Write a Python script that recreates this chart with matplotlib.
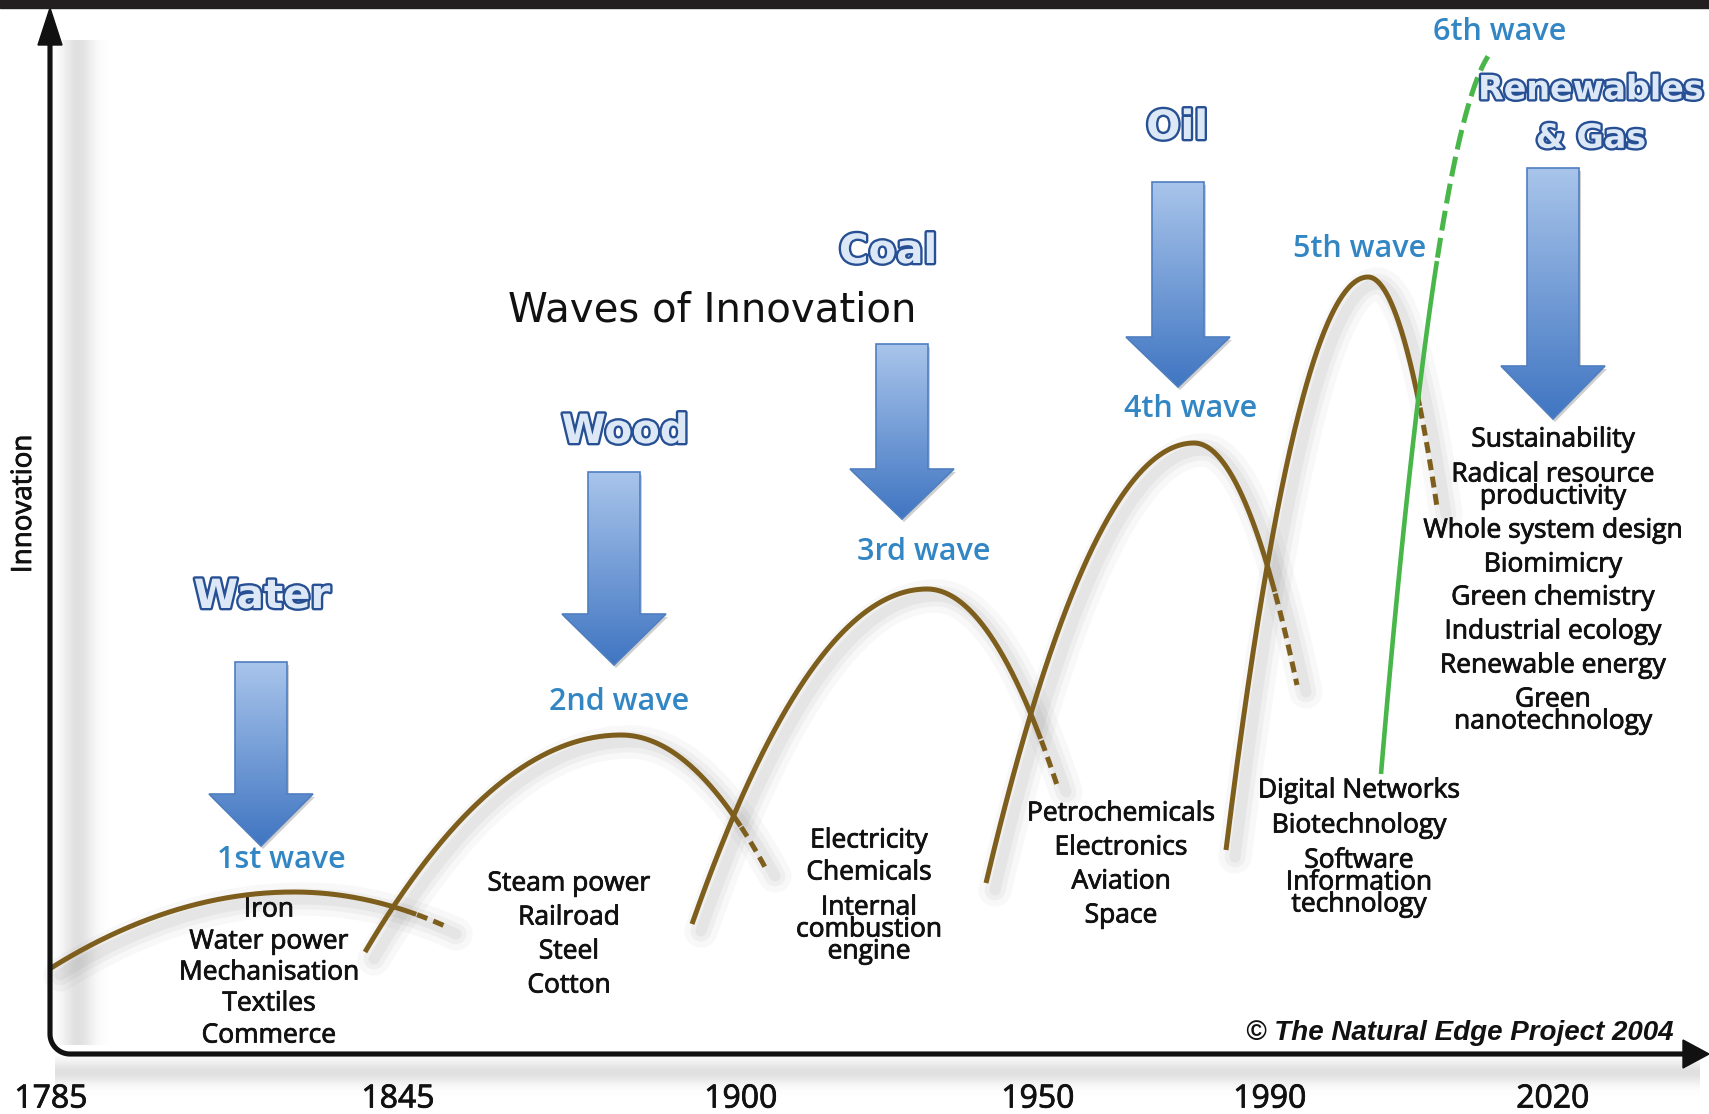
import numpy as np
import matplotlib
matplotlib.use("Agg")
import matplotlib.pyplot as plt
import matplotlib.patheffects as pe
from matplotlib.patches import Polygon, Rectangle

W, H = 1709, 1114

# ---- data (in picture pixels) ----
YEARS = ["1785", "1845", "1900", "1950", "1990", "2020"]
YEAR_X = [51, 398, 741, 1038, 1270, 1553]

RESOURCES = ["Water", "Wood", "Coal", "Oil", "Renewables\n& Gas"]
WAVES = ["1st wave", "2nd wave", "3rd wave", "4th wave", "5th wave", "6th wave"]
INDUSTRIES = [
    ["Iron", "Water power", "Mechanisation", "Textiles", "Commerce"],
    ["Steam power", "Railroad", "Steel", "Cotton"],
    ["Electricity", "Chemicals", "Internal\ncombustion\nengine"],
    ["Petrochemicals", "Electronics", "Aviation", "Space"],
    ["Digital Networks", "Biotechnology", "Software\nInformation\ntechnology"],
    ["Sustainability", "Radical resource\nproductivity", "Whole system design",
     "Biomimicry", "Green chemistry", "Industrial ecology", "Renewable energy",
     "Green\nnanotechnology"],
]

# brown waves: start, peak, end of each arc; dashed tail begins at WAVE_DASH_X
WAVE_START_X = [51, 365, 692, 986, 1226]
WAVE_START_Y = [968, 952, 924, 883, 850]
WAVE_PEAK_X = [294, 621, 927, 1194, 1368]
WAVE_PEAK_Y = [892, 735, 589, 443, 277]
WAVE_END_X = [447, 766, 1057, 1297, 1437]
WAVE_END_Y = [927, 869, 785, 685, 507]
WAVE_DASH_X = [417, 741, 1041, 1275, 1420]

# green 6th wave (rising limb only)
SIXTH_START = (1381, 774)
SIXTH_APEX = (1504, 44)
SIXTH_END_X = 1488
SIXTH_DASH_X = 1437

# ---- layout ----
ARROW_CX = [261, 614, 902, 1178, 1553]
ARROW_TOP = [662, 472, 344, 182, 168]
ARROW_BASE = [794, 614, 469, 337, 366]
ARROW_TIP = [846, 665, 519, 387, 419]
RES_POS = [(262, 597), (625, 432), (888, 252), (1177, 128), (1591, 114)]
WAVE_LBL_POS = [(281, 860), (619, 702), (924, 552), (1191, 409), (1360, 249), (1500, 32)]
IND_X = [269, 569, 869, 1121, 1359, 1553]
IND_Y = [[910, 942, 973, 1004, 1036],
         [884, 918, 952, 986],
         [841, 873, 930],
         [814, 848, 882, 916],
         [791, 826, 883],
         [440, 486, 531, 565, 598, 632, 666, 711]]

BROWN = "#7e5e1c"
GREEN = "#48b649"
WAVE_BLUE = "#3286c4"
FONT = "Open Sans"
INK = "#111111"
THICK = [pe.withStroke(linewidth=0.6, foreground=INK)]

fig = plt.figure(figsize=(W / 100, H / 100), dpi=100)
ax = fig.add_axes([0, 0, 1, 1])
ax.set_xlim(0, W)
ax.set_ylim(H, 0)
ax.axis("off")


def arc(x0, y0, xp, yp, x1, y1, n=200):
    xl = np.linspace(x0, xp, n)
    yl = yp + (y0 - yp) * ((xp - xl) / (xp - x0)) ** 2
    xr = np.linspace(xp, x1, n)
    yr = yp + (y1 - yp) * ((xr - xp) / (x1 - xp)) ** 2
    return np.r_[xl, xr[1:]], np.r_[yl, yr[1:]]


def shadow_img(extent, prof, axis):
    # soft grey shadow, alpha profile along one axis
    a = np.asarray(prof)
    if axis == 0:
        a = a[None, :]
    else:
        a = a[:, None]
    img = np.zeros(a.shape + (4,))
    img[..., :3] = 0.45
    img[..., 3] = a
    ax.imshow(img, extent=extent, origin="upper", aspect="auto",
              interpolation="bilinear", zorder=0)


# axis shadows
xs = np.linspace(52, 125, 80)
shadow_img([52, 125, 1045, 40], 0.22 * np.exp(-((xs - 78) / 16) ** 2), 0)
ys = np.linspace(1056, 1105, 60)
shadow_img([55, 1700, 1105, 1056], 0.22 * np.exp(-((ys - 1072) / 12) ** 2), 1)

# top dark band
ax.add_patch(Rectangle((0, 0), W, 8, color="#231f20", zorder=10))

# axes (rounded corner) with arrow heads
r = 20
t = np.linspace(np.pi, np.pi / 2, 30)
ax_x = np.r_[50, 50 + r + r * np.cos(t), 1686]
ax_y = np.r_[42, 1054 - r + r * np.sin(t), 1054]
ax.plot(ax_x, ax_y, color=INK, lw=3.7, solid_capstyle="butt", zorder=5)
ax.add_patch(Polygon([(50, 8), (38, 45), (62, 45)], closed=True, color=INK, zorder=5))
ax.add_patch(Polygon([(1709, 1054), (1683, 1040), (1683, 1068)], closed=True, color=INK, zorder=5))

# brown waves
for i in range(len(WAVE_START_X)):
    x, y = arc(WAVE_START_X[i], WAVE_START_Y[i], WAVE_PEAK_X[i], WAVE_PEAK_Y[i],
               WAVE_END_X[i], WAVE_END_Y[i])
    for lw, al in [(24, 0.04), (15, 0.05), (8, 0.06)]:
        ax.plot(x + 9, y + 7, color="#555555", lw=lw, alpha=al, solid_capstyle="round", zorder=1)
    solid = x <= WAVE_DASH_X[i]
    ax.plot(x[solid], y[solid], color=BROWN, lw=3.6, solid_capstyle="butt", zorder=3)
    ax.plot(x[~solid], y[~solid], color=BROWN, lw=3.6, dashes=(2.2, 1.3), zorder=3)

# green 6th wave
gx = np.linspace(SIXTH_START[0], SIXTH_END_X, 200)
gy = SIXTH_APEX[1] + (SIXTH_START[1] - SIXTH_APEX[1]) * ((SIXTH_APEX[0] - gx) / (SIXTH_APEX[0] - SIXTH_START[0])) ** 2
g_solid = gx <= SIXTH_DASH_X
ax.plot(gx[g_solid], gy[g_solid], color=GREEN, lw=3.3, solid_capstyle="butt", zorder=3)
ax.plot(gx[~g_solid], gy[~g_solid], color=GREEN, lw=3.6, dashes=(4, 1.5), zorder=3)

# gradient arrows
grad = np.linspace(0, 1, 256)[:, None, None]
c_top = np.array([0.66, 0.77, 0.92])
c_bot = np.array([0.25, 0.46, 0.76])
grad_img = c_top * (1 - grad) + c_bot * grad
for cx, top, base, tip in zip(ARROW_CX, ARROW_TOP, ARROW_BASE, ARROW_TIP):
    sw, hw = 26, 52
    pts = [(cx - sw, top), (cx + sw, top), (cx + sw, base), (cx + hw, base),
           (cx, tip), (cx - hw, base), (cx - sw, base)]
    ax.add_patch(Polygon([(px + 2, py + 3) for px, py in pts], closed=True,
                         color="#777777", alpha=0.35, lw=0, zorder=3))
    poly = Polygon(pts, closed=True, fc="none", ec="#4f7fc0", lw=1.2, zorder=4)
    ax.add_patch(poly)
    im = ax.imshow(grad_img, extent=[cx - hw, cx + hw, tip, top], origin="upper",
                   aspect="auto", zorder=3.5)
    im.set_clip_path(poly)

# resource words (outlined)
for name, (x, y) in zip(RESOURCES, RES_POS):
    big = "\n" not in name
    ax.text(x, y, name, ha="center", va="center", fontsize=29 if big else 24,
            fontweight="bold", family="DejaVu Sans", color="#dce8f6",
            linespacing=1.6, multialignment="center", zorder=6,
            path_effects=[pe.withStroke(linewidth=3.4, foreground="#274f94")])

# wave labels
for name, (x, y) in zip(WAVES, WAVE_LBL_POS):
    ax.text(x, y, name, ha="center", va="center", fontsize=22, fontweight="semibold",
            family=FONT, color=WAVE_BLUE, zorder=6)

# industries
for items, cx, ylist in zip(INDUSTRIES, IND_X, IND_Y):
    for txt, y in zip(items, ylist):
        ax.text(cx, y, txt, ha="center", va="center", fontsize=19,
                family=FONT, color=INK, linespacing=0.84, multialignment="center",
                zorder=6, path_effects=THICK)

# title
ax.text(712, 310, "Waves of Innovation", ha="center", va="center", fontsize=29,
        family="DejaVu Sans", color=INK, zorder=6)

# y label
ax.text(24, 504, "Innovation", rotation=90, ha="center", va="center", fontsize=20,
        family=FONT, color=INK, zorder=6, path_effects=THICK)

# year labels
for lbl, x in zip(YEARS, YEAR_X):
    ax.text(x, 1099, lbl, ha="center", va="center", fontsize=23, family=FONT,
            color=INK, zorder=6, path_effects=THICK)

# copyright
ax.text(1673, 1033, "\u00a9 The Natural Edge Project 2004", ha="right", va="center",
        fontsize=20, fontweight="bold", fontstyle="italic", family="Liberation Sans",
        color=INK, zorder=6)

fig.savefig("out.png", dpi=100, facecolor="white")
